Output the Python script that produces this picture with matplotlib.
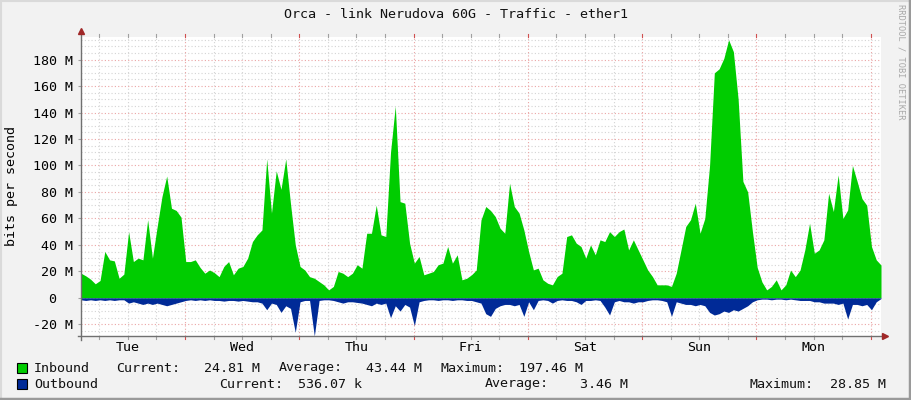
import numpy as np
import matplotlib
matplotlib.use("Agg")
import matplotlib.pyplot as plt
from matplotlib.patches import Rectangle
from matplotlib.lines import Line2D

# ---------------- data (hourly samples, Mbit/s) ----------------
inbound_mbps = [
    18.6, 16.6, 14.1, 10.6, 13.1, 35.0, 28.7, 27.9, 14.8, 17.9,
    50.0, 27.4, 30.0, 28.7, 59.0, 30.0, 53.9, 76.5, 92.0, 67.7,
    66.0, 61.0, 27.4, 27.4, 28.7, 23.0, 18.6, 21.0, 19.0, 16.0,
    23.7, 27.4, 17.4, 22.4, 23.7, 30.0, 42.5, 47.6, 51.3, 105.0,
    64.0, 96.0, 82.0, 105.0, 71.0, 40.0, 23.7, 21.0, 16.0, 14.8,
    12.3, 9.8, 6.0, 8.6, 19.9, 18.6, 16.0, 18.6, 25.0, 22.4,
    48.8, 48.8, 70.0, 47.6, 46.3, 110.0, 145.0, 72.7, 71.5, 41.3,
    26.2, 31.2, 17.4, 18.6, 19.9, 25.0, 26.2, 38.8, 26.2, 32.5,
    13.6, 14.8, 17.4, 21.0, 58.9, 69.0, 66.0, 61.4, 52.6, 48.8,
    86.6, 69.0, 64.0, 51.3, 35.0, 21.1, 22.4, 13.6, 11.0, 9.8,
    16.1, 18.6, 46.3, 47.6, 41.3, 38.8, 30.0, 40.0, 32.5, 43.8,
    42.5, 50.0, 46.3, 50.0, 52.0, 36.2, 43.8, 36.2, 28.7, 21.1,
    16.1, 9.8, 9.8, 9.8, 8.6, 18.6, 36.2, 53.9, 59.0, 71.5,
    48.8, 60.0, 100.0, 170.0, 173.0, 181.0, 195.0, 186.0, 150.0, 88.0,
    80.0, 50.0, 23.0, 12.0, 6.0, 8.6, 13.6, 6.0, 9.8, 21.0,
    16.0, 21.0, 36.2, 56.4, 33.7, 36.2, 43.8, 79.0, 65.2, 92.9,
    60.0, 66.4, 100.0, 87.8, 75.0, 70.0, 38.8, 28.7, 24.8,
]
outbound_mbps = [
    1.5, 2, 1.5, 2, 1.5, 2, 1.5, 2, 1.5, 1.5,
    4, 3, 4, 5, 4, 5, 4, 5, 6, 5,
    4, 3, 2, 1.5, 2, 1.5, 2, 1.5, 2, 2,
    2.5, 2, 2, 2.5, 2, 2.5, 3, 3, 4, 9,
    4, 5, 11, 6, 8, 26, 3, 2, 2, 28.85,
    2, 1.5, 1.5, 2, 3, 4, 3, 3, 3.5, 4,
    5, 6, 4, 5, 4, 15, 6, 10, 5, 7,
    21, 3, 2, 1.5, 1.5, 2, 1.5, 1.5, 2, 1.5,
    1.5, 2, 2, 3, 4, 12, 14, 8, 6, 5,
    5, 6, 5, 14, 3, 9, 2, 1.5, 2, 4,
    2, 1.5, 2, 2, 3, 5, 2, 2, 1.5, 2,
    7, 13, 3, 2, 3, 3, 4, 3, 3, 2,
    1.5, 1.5, 2, 3, 14, 3, 4, 5, 5, 6,
    5, 6, 11, 13, 12, 10, 11, 9, 10, 8,
    6, 3, 1.5, 1, 1, 1.5, 1, 1, 1.5, 1,
    1.5, 2, 2, 2, 3, 3, 4, 4, 4, 5,
    4, 16, 5, 5, 6, 5, 9, 3, 0.54,
]
day_labels = ["Tue", "Wed", "Thu", "Fri", "Sat", "Sun", "Mon"]
y_tick_values = [-20, 0, 20, 40, 60, 80, 100, 120, 140, 160, 180]
y_limits = (-28.85, 197.46)
first_midnight_h = 21.84  # hours after graph start

title = "Orca - link Nerudova 60G - Traffic - ether1"
legend_rows = [
    [("Inbound", 34), ("Current:", 116), ("24.81 M", 204.5), ("Average:", 279),
     ("43.44 M", 366), ("Maximum:", 440.5), ("197.46 M", 519)],
    [("Outbound", 34), ("Current:", 219.5), ("536.07 k", 298), ("Average:", 485),
     ("3.46 M", 580), ("Maximum:", 749.5), ("28.85 M", 830)],
]

IN_COLOR = "#00CC00"
OUT_COLOR = "#002A97"

# ---------------- figure ----------------
W, H = 911, 400
plt.rcParams["font.family"] = ["DejaVu Sans Mono"]
FS = 9.6
fig = plt.figure(figsize=(W / 100, H / 100), dpi=100, facecolor="#F2F2F2")


def fx(x):
    return x / W


def fy(y):
    return 1 - y / H


L, R, T, B = 81, 881, 36.5, 336
ax = fig.add_axes([fx(L), fy(B), (R - L) / W, (B - T) / H])
ax.set_facecolor("white")
hours = np.arange(len(inbound_mbps))
ax.set_xlim(0, hours[-1])
ax.set_ylim(*y_limits)

# grid
grid_minor = dict(color="#D4D4D4", lw=0.8, ls=(0, (1, 2)), zorder=1)
grid_major = dict(color="#EBA5A5", lw=0.8, ls=(0, (1, 2)), zorder=1.1)
for v in np.arange(-25, 200, 5):
    if v % 20 == 0:
        ax.axhline(v, **grid_major)
    else:
        ax.axhline(v, **grid_minor)
six_h = np.arange(first_midnight_h % 6, hours[-1], 6)
xt = ax.get_xaxis_transform()
for h in six_h:
    k = (h - first_midnight_h) / 24
    is_mid = abs(k - round(k)) < 1e-6
    ax.axvline(h, **(grid_major if is_mid else grid_minor))
    c = "#D05050" if is_mid else "#A0A0A0"
    ax.plot([h, h], [0, -3 / (B - T)], color=c, lw=0.8, transform=xt, clip_on=False, zorder=5)
    ax.plot([h, h], [1, 1 + 3 / (B - T)], color=c, lw=0.8, transform=xt, clip_on=False, zorder=5)

# data
inb = np.array(inbound_mbps)
outb = np.array(outbound_mbps)
ax.fill_between(hours, 0, inb, color=IN_COLOR, lw=0, zorder=3)
ax.fill_between(hours, 0, -outb, color=OUT_COLOR, lw=0, zorder=3)

# axes
for s in ax.spines.values():
    s.set_visible(False)
ax.set_yticks(y_tick_values)
ax.set_yticklabels([("%d M" % v) if v != 0 else "0  " for v in y_tick_values], fontsize=FS)
ax.tick_params(axis="y", length=2, color="#A0A0A0", pad=4)
noon = [first_midnight_h - 12 + 24 * i for i in range(len(day_labels))]
ax.set_xticks(noon)
ax.set_xticklabels(day_labels, fontsize=FS)
ax.tick_params(axis="x", length=0, pad=3.5)

axis_col = "#707070"
fig.add_artist(Line2D([fx(L), fx(L)], [fy(B + 4), fy(31)], color=axis_col, lw=1, transform=fig.transFigure))
fig.add_artist(Line2D([fx(L - 3), fx(R + 3)], [fy(B), fy(B)], color=axis_col, lw=1, transform=fig.transFigure))
fig.add_artist(Line2D([fx(L)], [fy(31)], marker="^", ms=5, color="#A02828", lw=0, transform=fig.transFigure))
fig.add_artist(Line2D([fx(R + 4)], [fy(B)], marker=">", ms=5, color="#A02828", lw=0, transform=fig.transFigure))

# texts
fig.text(0.5, fy(14), title, ha="center", va="center", fontsize=FS, color="#111111")
fig.text(fx(12), fy(186), "bits per second", rotation=90, ha="center", va="center", fontsize=FS)
fig.text(fx(901), fy(4), "RRDTOOL / TOBI OETIKER", rotation=270, ha="center", va="top",
         fontsize=6.2, color="#A8A8A8")

row_y = [368, 384]
for row, y, col in zip(legend_rows, row_y, [IN_COLOR, OUT_COLOR]):
    fig.add_artist(Rectangle((fx(17), fy(y + 5)), 10 / W, 10 / H, facecolor=col,
                             edgecolor="black", lw=0.8, transform=fig.transFigure))
    for txt, x in row:
        fig.text(fx(x), fy(y), txt, ha="left", va="center", fontsize=FS, color="#111111")

# 3D-ish border
fig.add_artist(Line2D([0, 1], [fy(0.5), fy(0.5)], color="#DADADA", lw=1.5, transform=fig.transFigure))
fig.add_artist(Line2D([fx(0.5), fx(0.5)], [0, 1], color="#DADADA", lw=1.5, transform=fig.transFigure))
fig.add_artist(Line2D([0, 1], [fy(H - 1), fy(H - 1)], color="#9A9A9A", lw=2.5, transform=fig.transFigure))
fig.add_artist(Line2D([fx(W - 1), fx(W - 1)], [0, 1], color="#9A9A9A", lw=2.5, transform=fig.transFigure))

fig.savefig("out.png", dpi=100, facecolor=fig.get_facecolor())
